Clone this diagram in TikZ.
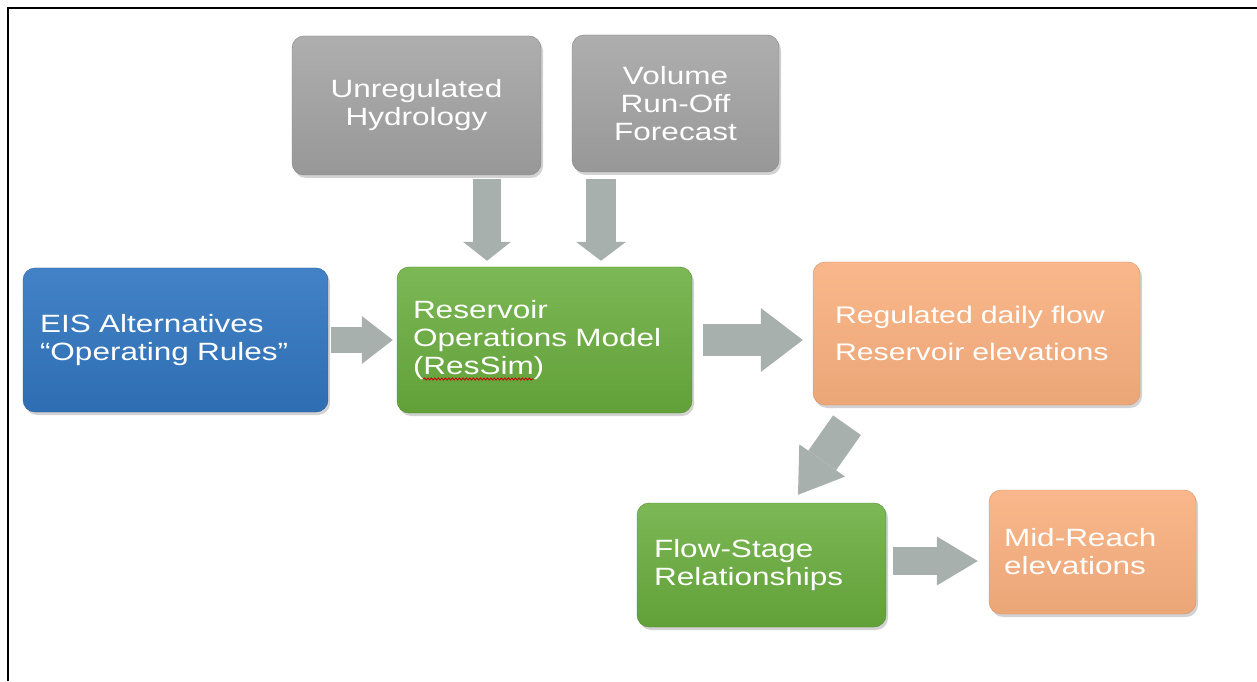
\documentclass[tikz,border=0pt]{standalone}
\usepackage{fontspec}
\setmainfont[FakeStretch=1.26]{Liberation Sans}
\usetikzlibrary{arrows.meta,shadows,calc,decorations.pathmorphing}
\definecolor{boxblue}{HTML}{3277C2}
\definecolor{boxgreen}{HTML}{6AAE3E}
\definecolor{boxorange}{HTML}{F8AF7E}
\definecolor{boxgray}{HTML}{A5A5A5}
\definecolor{arrowgray}{HTML}{A8B0AE}
\tikzset{
  box/.style={rectangle, rounded corners=12pt, text=white,
    font=\fontsize{25}{28}\selectfont, inner ysep=0pt,
    drop shadow={shadow xshift=2pt, shadow yshift=-3pt, opacity=0.35}},
  bluebox/.style={box, draw=boxblue!80!black, top color=boxblue!92!white, bottom color=boxblue!92!black},
  greenbox/.style={box, draw=boxgreen!80!black, top color=boxgreen!88!white, bottom color=boxgreen!92!black},
  orangebox/.style={box, draw=boxorange!85!black, top color=boxorange!90!white, bottom color=boxorange!95!black},
  graybox/.style={box, draw=boxgray!80!black, top color=boxgray!90!white, bottom color=boxgray!92!black, align=center},
  barrow/.style n args={3}{draw=arrowgray, line width=#1, line cap=butt,
    -{Triangle[width=#2, length=#3, line width=0pt]}},
  spellwave/.style={draw=red!80!black, line width=0.9pt, decorate,
    decoration={snake, amplitude=1pt, segment length=3.5pt}},
}
\begin{document}
\begin{tikzpicture}[x=1pt,y=1pt]
\useasboundingbox (0,0) rectangle (1257,681);
\fill[white] (0,0) rectangle (1257,681);
% frame
\draw[line width=2.2pt, black] (8,0) -- (8,673) -- (1257,673);

% nodes
\node[graybox, minimum width=249pt, minimum height=139pt, text width=229pt] (unreg) at (416.5,575.5) {Unregulated\\Hydrology};
\node[graybox, minimum width=207pt, minimum height=137pt, text width=190pt] (vol) at (675.5,577.5) {Volume\\Run-Off\\Forecast};
\node[bluebox, minimum height=144pt, inner xsep=17pt, text width=271pt, align=left] (eis) at (175.5,341) {EIS Alternatives\\``Operating Rules''};
\node[greenbox, minimum height=146pt, inner xsep=16pt, text width=263pt, align=left] (res) at (544.5,341) {Reservoir\\Operations Model\\(ResSim)};
\node[orangebox, minimum height=143pt, inner xsep=22pt, text width=283pt, align=left, font=\fontsize{24}{37}\selectfont] (reg) at (976.5,347.5) {Regulated daily flow\\Reservoir elevations};
\node[greenbox, minimum height=124pt, inner xsep=17pt, text width=215pt, align=left] (flow) at (761.5,116) {Flow-Stage\\Relationships};
\node[orangebox, minimum height=124pt, inner xsep=15pt, text width=177pt, align=left] (mid) at (1092.5,129) {Mid-Reach\\elevations};

% spell-check underline under "ResSim"
\draw[spellwave] ($(res.west)+(26.5,-39)$) -- ($(res.west)+(137,-39)$);

% connectors (block arrows)
\draw[barrow={26pt}{48pt}{31pt}] ([xshift=3pt]eis.east) -- ([xshift=-4pt]res.west);
\draw[barrow={32pt}{64pt}{42pt}] ([xshift=11pt]res.east) -- ([xshift=-10pt]res.east -| reg.west);
\draw[barrow={28pt}{48pt}{19pt}] ([xshift=70.5pt,yshift=-4pt]unreg.south) -- ([xshift=-57.5pt,yshift=6pt]res.north);
\draw[barrow={30pt}{50pt}{19pt}] ([xshift=-74.5pt,yshift=-7pt]vol.south) -- ([xshift=56.5pt,yshift=6pt]res.north);
\draw[barrow={34pt}{56pt}{42pt}] ([xshift=-129.5pt,yshift=-20pt]reg.south) -- ([xshift=36.5pt,yshift=8pt]flow.north);
\draw[barrow={28pt}{49pt}{41pt}] ([xshift=7pt,yshift=4pt]flow.east) -- ([xshift=-11pt,yshift=-9pt]mid.west);
\end{tikzpicture}
\end{document}
